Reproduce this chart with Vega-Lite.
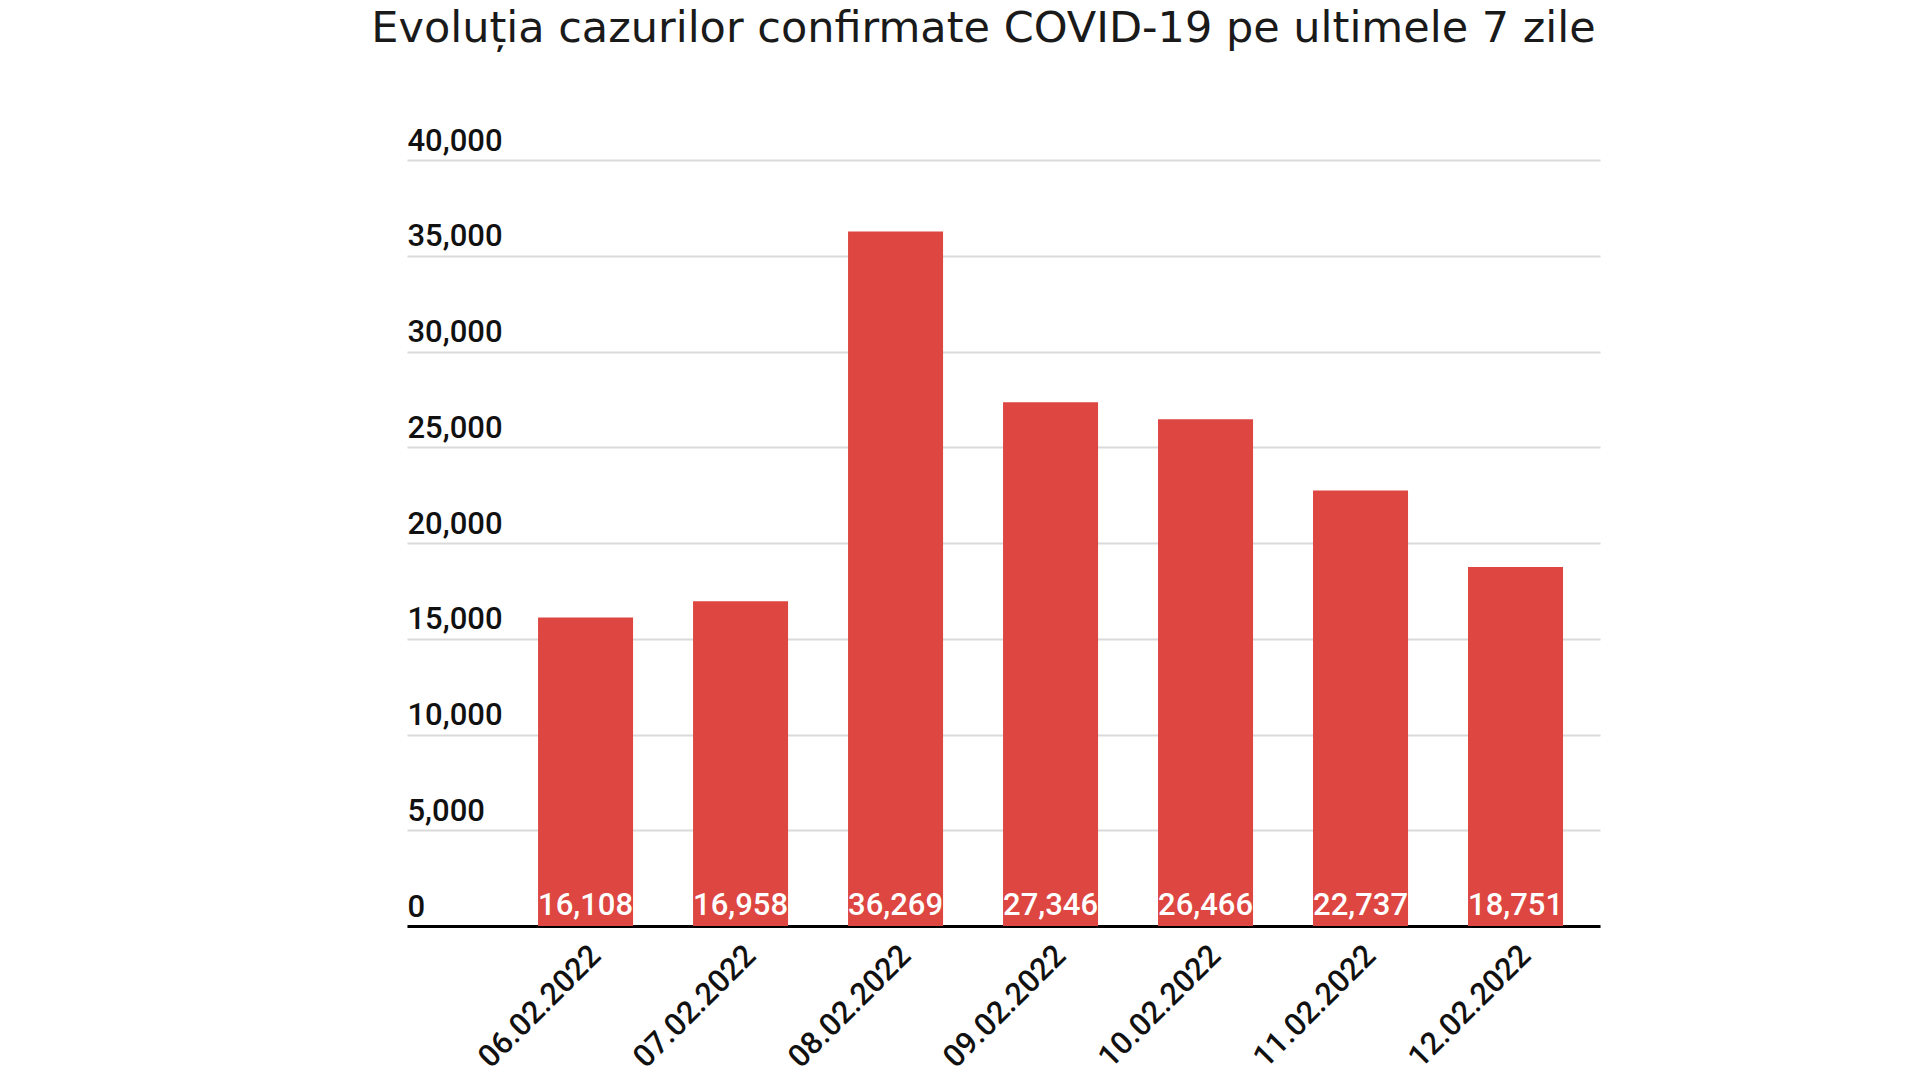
{
  "$schema": "https://vega.github.io/schema/vega-lite/v6.json",
  "width": 1193,
  "height": 766,
  "autosize": {"type": "none"},
  "padding": {"left": 407, "top": 160, "right": 320, "bottom": 154},
  "background": "white",
  "config": {"view": {"stroke": null}},
  "title": {
    "text": "Evoluția cazurilor confirmate COVID-19 pe ultimele 7 zile",
    "font": "DejaVu Sans",
    "fontSize": 43,
    "fontWeight": "normal",
    "color": "#1a1a1a",
    "anchor": "middle",
    "baseline": "alphabetic",
    "offset": 40,
    "dx": -20
  },
  "data": {
    "values": [
      {"data": "06.02.2022", "cazuri": 16108},
      {"data": "07.02.2022", "cazuri": 16958},
      {"data": "08.02.2022", "cazuri": 36269},
      {"data": "09.02.2022", "cazuri": 27346},
      {"data": "10.02.2022", "cazuri": 26466},
      {"data": "11.02.2022", "cazuri": 22737},
      {"data": "12.02.2022", "cazuri": 18751}
    ]
  },
  "encoding": {
    "x": {
      "field": "data",
      "type": "nominal",
      "sort": null,
      "scale": {"paddingInner": 0.387, "paddingOuter": 0.542, "align": 0.78},
      "axis": {
        "title": null,
        "labelAngle": -45,
        "labelFont": "Roboto",
        "labelFontSize": 31,
        "labelFontWeight": 500,
        "labelColor": "#111111",
        "labelPadding": 14,
        "labelOffset": 0,
        "ticks": false,
        "tickSize": 0,
        "domainColor": "#000000",
        "domainWidth": 3,
        "grid": false
      }
    }
  },
  "layer": [
    {
      "mark": {"type": "bar", "color": "#dd4641"},
      "encoding": {
        "y": {
          "field": "cazuri",
          "type": "quantitative",
          "scale": {"domain": [0, 40000], "nice": false},
          "axis": {
            "title": null,
            "values": [0, 5000, 10000, 15000, 20000, 25000, 30000, 35000, 40000],
            "format": ",d",
            "domain": false,
            "ticks": false,
            "tickSize": 0,
            "labelAlign": "left",
            "labelBaseline": "alphabetic",
            "labelPadding": 0,
            "labelOffset": -10,
            "labelFont": "Roboto",
            "labelFontSize": 31,
            "labelFontWeight": 500,
            "labelColor": "#111111",
            "grid": true,
            "gridColor": "#dadada",
            "gridWidth": 2
          }
        }
      }
    },
    {
      "mark": {
        "type": "text",
        "color": "white",
        "font": "Roboto",
        "fontSize": 31,
        "fontWeight": 500,
        "baseline": "alphabetic",
        "align": "center",
        "dy": -11
      },
      "encoding": {
        "y": {"datum": 0, "type": "quantitative"},
        "text": {"field": "cazuri", "type": "quantitative", "format": ",d"}
      }
    }
  ]
}
